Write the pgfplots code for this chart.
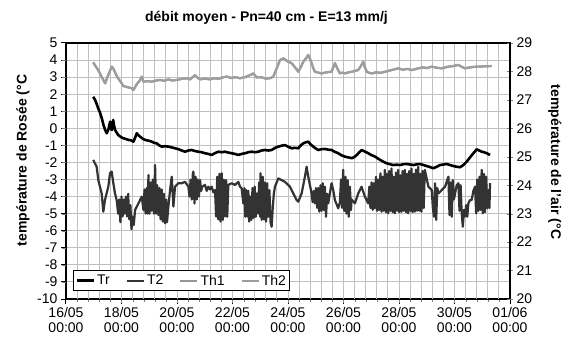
\documentclass[border=0pt]{standalone}
\usepackage{fontspec}
\setmainfont{Liberation Sans}
\usepackage{pgfplots}
\pgfplotsset{compat=1.18}
\definecolor{tdark}{RGB}{51,51,51}
\definecolor{thone}{RGB}{150,150,150}
\definecolor{thtwo}{RGB}{158,158,158}
\begin{document}
\begin{tikzpicture}[font=\fontsize{14bp}{15bp}\selectfont]
\useasboundingbox (-66bp,-41bp) rectangle (498bp,299bp);
\begin{axis}[
  scale only axis, width=444bp, height=256bp, xmin=0, xmax=16, at={(0,0)}, anchor=south west,
  /pgf/number format/assume math mode=true,
  axis line style={black, line width=1.6bp},
  ymin=-10, ymax=5, ytick={-10,-9,...,5},
  xtick={0,2,...,16},
  xticklabels={16/05\\00:00,18/05\\00:00,20/05\\00:00,22/05\\00:00,24/05\\00:00,26/05\\00:00,28/05\\00:00,30/05\\00:00,01/06\\00:00},
  xticklabel style={align=center},
  major tick style={black, line width=1bp},
  major tick length=5bp,
  tick align=outside,
  xtick pos=left, ytick pos=left,
  ylabel={\bfseries température de Rosée (°C},
  ylabel style={at={(axis description cs:-0.097,0.541)}, anchor=center},
  title={\bfseries débit moyen - Pn=40 cm - E=13 mm/j},
  title style={at={(axis description cs:0.4516,1.076)}, anchor=center},
]
\end{axis}
\begin{axis}[
  scale only axis, width=444bp, height=256bp, xmin=0, xmax=16, at={(0,0)}, anchor=south west,
  ymin=-10, ymax=5, ytick={-9,-8,...,4},
  xtick={2,4,...,14},
  minor xtick={0.4,0.8,...,15.7},
  xmajorgrids=true, xminorgrids=true, ymajorgrids=true,
  major grid style={draw=black!25, line width=1bp},
  minor grid style={draw=black!25, line width=1bp},
  tick align=outside,
  xtick pos=left, ytick pos=left,
  xticklabel={\mbox{}}, yticklabel={\mbox{}},
]
\addplot[black, line width=2.6bp, line join=round] coordinates {
(0.98,1.85)(1.05,1.66)(1.10,1.45)(1.16,1.17)(1.22,0.95)(1.29,0.59)(1.35,0.2)(1.41,-0.10)(1.47,-0.29)(1.53,-0.05)(1.59,0.39)(1.62,0.0)(1.65,-0.10)(1.70,0.49)(1.74,0.1)(1.77,-0.10)
(1.88,-0.39)(1.97,-0.50)(2.06,-0.58)(2.15,-0.62)(2.25,-0.68)(2.34,-0.70)(2.43,-0.78)(2.49,-0.55)(2.55,-0.29)(2.61,-0.40)(2.67,-0.49)(2.76,-0.60)(2.85,-0.68)(2.97,-0.72)(3.09,-0.78)(3.18,-0.85)(3.27,-0.88)(3.36,-1.0)(3.45,-1.07)
(3.57,-1.05)(3.69,-1.07)(3.81,-1.12)(3.93,-1.17)(4.05,-1.22)(4.17,-1.3)(4.29,-1.37)(4.41,-1.30)(4.53,-1.27)(4.65,-1.33)(4.77,-1.37)(4.89,-1.40)(5.01,-1.46)(5.13,-1.50)(5.25,-1.56)(5.37,-1.45)(5.49,-1.37)(5.61,-1.40)(5.73,-1.37)(5.85,-1.42)(5.97,-1.46)
(6.09,-1.50)(6.21,-1.56)(6.33,-1.50)(6.45,-1.46)(6.57,-1.40)(6.69,-1.37)(6.81,-1.40)(6.93,-1.37)(7.05,-1.30)(7.17,-1.27)(7.29,-1.30)(7.41,-1.27)(7.53,-1.15)(7.65,-1.07)(7.77,-1.02)(7.89,-0.98)(8.01,-1.08)(8.13,-1.17)(8.25,-1.14)(8.37,-1.17)
(8.46,-1.0)(8.55,-0.88)(8.64,-0.82)(8.73,-0.78)(8.82,-0.95)(8.91,-1.07)(9.00,-1.18)(9.09,-1.27)(9.21,-1.22)(9.33,-1.21)(9.45,-1.25)(9.57,-1.27)(9.69,-1.38)(9.81,-1.46)(9.93,-1.58)(10.05,-1.66)(10.17,-1.70)(10.30,-1.75)(10.39,-1.68)(10.48,-1.56)
(10.57,-1.40)(10.66,-1.27)(10.77,-1.36)(10.89,-1.46)(11.01,-1.57)(11.14,-1.66)(11.23,-1.76)(11.32,-1.85)(11.44,-1.96)(11.56,-2.05)(11.67,-2.10)(11.79,-2.15)(11.91,-2.13)(12.04,-2.15)(12.16,-2.10)(12.28,-2.09)(12.40,-2.12)(12.52,-2.15)(12.64,-2.11)(12.76,-2.09)
(12.88,-2.15)(13.00,-2.21)(13.12,-2.27)(13.24,-2.34)(13.36,-2.25)(13.48,-2.15)(13.60,-2.12)(13.72,-2.09)(13.84,-2.15)(13.96,-2.21)(14.08,-2.25)(14.20,-2.28)(14.32,-2.15)(14.44,-1.95)(14.56,-1.70)(14.68,-1.46)(14.80,-1.23)
(14.89,-1.30)(14.98,-1.37)(15.07,-1.40)(15.16,-1.46)(15.28,-1.56)
};
\end{axis}
\begin{axis}[
  scale only axis, width=444bp, height=256bp, xmin=0, xmax=16, at={(0,0)}, anchor=south west,
  /pgf/number format/assume math mode=true,
  axis line style={black, line width=1.6bp},
  ymin=20, ymax=29, ytick={20,21,...,29},
  axis x line=none, axis y line*=right,
  tick align=center, major tick length=6bp,
  ylabel={\bfseries température de l'air (°C},
  ylabel style={at={(axis description cs:1.101,0.535)}, anchor=center, rotate=180},
  legend columns=4,
  legend style={at={(axis description cs:0.0158,0.031)}, anchor=south west, draw=black, line width=1bp,
    fill=white, inner sep=2bp, /tikz/every even column/.append style={column sep=14bp}},
]
\addlegendimage{black, line width=2.6bp}
\addlegendentry{Tr}
\addplot[tdark, line width=2.2bp, line join=round] coordinates {
(0.98,24.89)(1.105,24.65)(1.165,24.18)(1.285,23.71)(1.345,23.07)(1.405,23.48)(1.525,23.95)(1.585,24.42)(1.645,24.48)(1.706,24.07)(1.766,23.71)(1.826,23.48)
(1.88,23.0)(1.92,23.5)(1.96,22.7)(2.00,23.6)(2.04,22.9)(2.08,23.5)(2.12,23.0)(2.16,23.6)(2.20,22.9)(2.24,23.7)(2.28,22.8)(2.32,23.3)(2.36,22.45)(2.40,22.9)(2.44,22.6)
(2.49,23.13)(2.61,23.36)(2.73,23.60)
(2.79,23.13)(2.83,23.85)(2.87,23.0)(2.91,23.9)(2.95,23.0)(2.97,24.36)(3.01,23.0)(3.05,24.1)(3.09,23.1)(3.13,24.2)(3.17,23.0)(3.21,24.71)(3.25,23.0)(3.29,24.0)(3.33,22.95)(3.37,23.9)(3.41,22.8)(3.45,23.85)(3.49,22.72)(3.53,23.7)(3.57,22.66)(3.61,23.5)(3.64,22.7)
(3.69,23.25)(3.75,23.83)(3.81,24.30)(3.87,23.25)(3.93,23.95)(4.05,24.07)(4.17,24.07)(4.29,24.12)(4.41,23.95)
(4.45,23.6)(4.49,24.2)(4.53,23.5)(4.57,24.4)(4.59,24.48)(4.63,23.36)(4.67,24.3)(4.71,23.5)(4.75,24.2)(4.79,23.6)(4.83,24.18)(4.87,23.8)(4.91,23.95)
(5.01,24.01)(5.07,23.8)(5.13,23.95)(5.19,23.85)(5.25,23.95)(5.31,23.75)(5.37,23.83)
(5.41,22.9)(5.45,24.3)(5.49,22.8)(5.53,24.4)(5.57,22.72)(5.61,24.42)(5.65,22.78)(5.69,24.2)(5.73,22.9)(5.77,24.18)(5.81,22.89)(5.85,24.01)
(5.97,24.07)(6.09,24.01)(6.21,24.12)(6.27,23.95)(6.33,23.89)
(6.39,23.36)(6.43,23.9)(6.46,22.89)(6.50,23.83)(6.54,22.9)(6.57,23.8)(6.60,22.72)(6.64,23.6)(6.68,22.78)(6.72,23.9)(6.76,22.85)(6.80,23.95)(6.84,22.89)(6.88,23.71)(6.92,23.01)(6.96,24.1)(6.99,22.9)(7.01,24.42)(7.05,22.78)(7.09,24.30)(7.13,22.8)(7.17,24.1)(7.21,22.72)(7.25,24.07)(7.29,22.89)(7.33,23.83)(7.37,22.7)(7.41,22.54)(7.45,23.2)(7.49,23.71)
(7.53,23.95)(7.65,24.24)(7.77,24.18)(7.89,24.12)(8.07,23.95)(8.19,23.71)(8.31,23.48)(8.37,23.42)(8.49,23.71)(8.61,24.30)(8.67,24.65)(8.73,24.30)(8.85,23.71)
(8.89,23.4)(8.93,23.8)(8.97,23.36)(9.01,23.9)(9.05,23.2)(9.09,23.9)(9.13,23.07)(9.17,24.0)(9.21,23.1)(9.25,24.07)(9.29,23.13)(9.33,23.95)(9.37,22.89)(9.41,23.7)(9.45,23.36)
(9.57,24.07)(9.63,23.83)(9.69,23.48)(9.81,23.19)(9.87,23.4)
(9.91,24.2)(9.95,23.2)(9.99,24.54)(10.03,23.1)(10.07,24.3)(10.11,23.0)(10.15,24.18)(10.19,22.89)(10.23,23.95)(10.27,23.13)(10.29,23.5)
(10.41,23.36)(10.53,23.71)(10.65,23.95)(10.77,23.60)(10.89,23.36)
(10.93,23.95)(10.97,23.2)(11.01,24.1)(11.05,23.13)(11.09,24.07)(11.13,23.19)(11.17,24.3)(11.21,23.1)(11.25,24.2)(11.29,23.13)(11.33,24.42)(11.37,23.07)(11.41,24.3)(11.45,23.1)(11.49,24.54)(11.53,23.05)(11.57,24.4)(11.61,23.01)(11.65,24.5)(11.69,23.1)(11.73,24.59)(11.77,23.05)(11.81,24.3)(11.85,23.01)(11.89,24.45)(11.93,23.1)(11.97,24.54)(12.01,23.05)(12.05,24.35)(12.09,23.07)(12.13,24.5)(12.17,23.1)(12.21,24.54)(12.25,23.05)(12.29,24.4)(12.33,23.01)(12.37,24.5)(12.41,23.1)(12.45,24.59)(12.49,23.05)(12.53,24.4)(12.57,23.07)(12.61,24.55)(12.65,23.1)(12.69,24.65)(12.73,23.1)(12.77,24.4)(12.81,23.07)(12.85,24.5)(12.89,23.2)(12.93,24.54)
(13.06,23.95)(13.18,23.83)
(13.22,23.2)(13.26,22.89)(13.30,24.07)(13.34,22.78)(13.38,23.9)(13.42,23.71)
(13.54,23.83)(13.66,23.95)(13.78,24.30)
(13.82,22.95)(13.86,24.1)(13.90,22.89)(13.94,24.18)(13.98,23.5)(14.02,23.71)(14.08,24.0)(14.14,24.07)
(14.18,23.1)(14.22,24.0)(14.26,23.01)(14.30,22.54)(14.34,23.13)(14.38,22.9)(14.42,23.3)(14.46,22.89)(14.50,23.36)(14.56,23.48)(14.62,23.48)(14.68,23.8)
(14.74,23.95)(14.78,23.01)(14.82,24.2)(14.86,23.1)(14.90,24.30)(14.94,23.13)(14.98,24.54)(15.02,23.01)(15.06,24.4)(15.10,23.05)(15.14,24.30)(15.18,23.19)(15.22,23.83)(15.26,23.2)(15.28,24.07)
};
\addlegendentry{T2}
\addplot[thone, line width=2.2bp, line join=round] coordinates {
(0.98,28.32)(1.07,28.18)(1.16,28.05)(1.29,27.80)(1.41,27.58)(1.53,27.90)(1.65,28.17)(1.70,28.11)(1.85,27.80)(2.01,27.58)(2.06,27.49)(2.21,27.45)(2.37,27.41)(2.43,27.35)(2.55,27.55)(2.67,27.70)
(2.73,27.82)(2.79,27.64)(2.94,27.66)(3.09,27.64)(3.24,27.68)(3.39,27.70)(3.54,27.67)(3.69,27.72)(3.84,27.68)(3.99,27.70)(4.17,27.74)(4.35,27.76)(4.47,27.72)(4.59,27.82)(4.65,27.87)(4.74,27.78)(4.83,27.72)(5.01,27.75)(5.19,27.72)
(5.34,27.76)(5.49,27.74)(5.64,27.79)(5.79,27.82)(5.95,27.77)(6.11,27.80)(6.27,27.76)(6.45,27.80)(6.63,27.87)(6.75,27.93)(6.87,27.79)(7.03,27.80)(7.19,27.75)(7.35,27.76)(7.47,27.82)(7.59,28.10)(7.71,28.40)(7.83,28.46)(7.98,28.36)(8.13,28.29)
(8.25,28.15)(8.37,27.99)(8.46,28.15)(8.55,28.34)(8.64,28.45)(8.73,28.58)(8.79,28.45)(8.85,28.29)(8.91,28.12)(8.97,27.99)(9.09,27.96)(9.21,27.93)(9.39,27.97)(9.57,27.99)(9.63,28.15)(9.69,28.29)(9.78,28.10)(9.87,27.93)(9.96,27.96)(10.05,27.93)
(10.18,27.97)(10.30,27.99)(10.42,28.02)(10.53,28.05)(10.62,28.18)(10.71,28.34)(10.77,28.15)(10.84,27.99)(10.93,27.95)(11.02,27.93)(11.18,27.97)(11.34,27.95)(11.50,27.99)(11.62,28.02)(11.74,28.05)(11.86,28.08)(11.97,28.11)(12.13,28.06)(12.30,28.09)(12.46,28.05)(12.58,28.08)(12.70,28.11)
(12.86,28.14)(13.02,28.12)(13.18,28.17)(13.36,28.13)(13.54,28.11)(13.66,28.14)(13.78,28.17)(13.96,28.19)(14.14,28.23)(14.26,28.16)(14.38,28.11)(14.54,28.14)(14.70,28.16)(14.86,28.17)(15.10,28.18)(15.34,28.19)
};
\addlegendentry{Th1}
\addplot[thtwo, line width=2.2bp, line join=round] coordinates {
(0.98,28.32)(1.07,28.18)(1.16,28.05)(1.29,27.80)(1.41,27.58)(1.53,27.90)(1.65,28.17)(1.70,28.11)(1.85,27.80)(2.01,27.58)(2.06,27.49)(2.21,27.45)(2.37,27.41)(2.43,27.35)(2.55,27.55)(2.67,27.70)
(2.73,27.82)(2.79,27.64)(2.94,27.66)(3.09,27.64)(3.24,27.68)(3.39,27.70)(3.54,27.67)(3.69,27.72)(3.84,27.68)(3.99,27.70)(4.17,27.74)(4.35,27.76)(4.47,27.72)(4.59,27.82)(4.65,27.87)(4.74,27.78)(4.83,27.72)(5.01,27.75)(5.19,27.72)
(5.34,27.76)(5.49,27.74)(5.64,27.79)(5.79,27.82)(5.95,27.77)(6.11,27.80)(6.27,27.76)(6.45,27.80)(6.63,27.87)(6.75,27.93)(6.87,27.79)(7.03,27.80)(7.19,27.75)(7.35,27.76)(7.47,27.82)(7.59,28.10)(7.71,28.40)(7.83,28.46)(7.98,28.36)(8.13,28.29)
(8.25,28.15)(8.37,27.99)(8.46,28.15)(8.55,28.34)(8.64,28.45)(8.73,28.58)(8.79,28.45)(8.85,28.29)(8.91,28.12)(8.97,27.99)(9.09,27.96)(9.21,27.93)(9.39,27.97)(9.57,27.99)(9.63,28.15)(9.69,28.29)(9.78,28.10)(9.87,27.93)(9.96,27.96)(10.05,27.93)
(10.18,27.97)(10.30,27.99)(10.42,28.02)(10.53,28.05)(10.62,28.18)(10.71,28.34)(10.77,28.15)(10.84,27.99)(10.93,27.95)(11.02,27.93)(11.18,27.97)(11.34,27.95)(11.50,27.99)(11.62,28.02)(11.74,28.05)(11.86,28.08)(11.97,28.11)(12.13,28.06)(12.30,28.09)(12.46,28.05)(12.58,28.08)(12.70,28.11)
(12.86,28.14)(13.02,28.12)(13.18,28.17)(13.36,28.13)(13.54,28.11)(13.66,28.14)(13.78,28.17)(13.96,28.19)(14.14,28.23)(14.26,28.16)(14.38,28.11)(14.54,28.14)(14.70,28.16)(14.86,28.17)(15.10,28.18)(15.34,28.19)
};
\addlegendentry{Th2}
\end{axis}
\end{tikzpicture}
\end{document}
